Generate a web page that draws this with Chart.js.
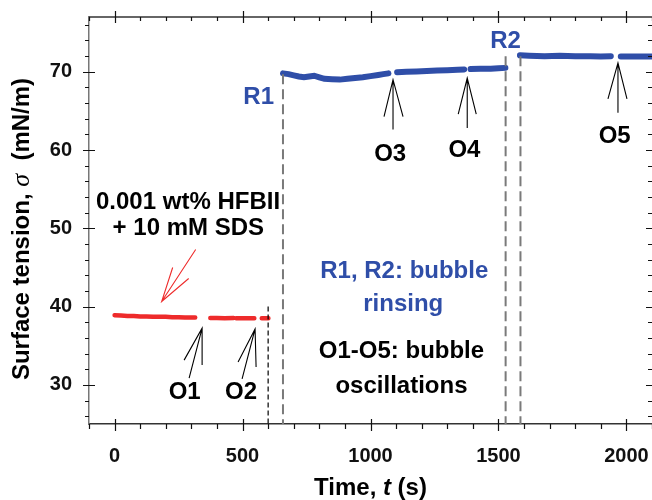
<!DOCTYPE html>
<html>
<head>
<meta charset="utf-8">
<script src="https://cdn.jsdelivr.net/npm/chart.js@4"></script>
<style>
  html, body { margin: 0; padding: 0; background: #fff; }
  #wrap { width: 652px; height: 500px; }
</style>
</head>
<body>
<div id="wrap"><canvas id="myChart" width="652" height="500"></canvas></div>
<script>
// Surface tension vs time, HFBII + SDS bubble
// red: before rinsing (null = gap where the bubble was oscillated)
const redT = [0, 25, 50, 75, 100, 125, 150, 175, 200, 225, 250, 275, 300, 315, 340,
              374, 400, 430, 465, 470, 475, 510, 546, 560, 575, 601];
const redS = [38.9, 38.85, 38.8, 38.8, 38.75, 38.75, 38.7, 38.7, 38.7, 38.65, 38.65, 38.6, 38.6, 38.6, null,
              38.55, 38.55, 38.5, 38.55, null, 38.5, 38.5, 38.5, null, 38.5, 38.5];

// blue: after rinsing R1 and R2
const blueT = [658, 680, 700, 720, 740, 760, 780, 800, 820, 850, 880, 910, 940, 970, 1000, 1030, 1050, 1070, 1088,
               1104, 1140, 1180, 1220, 1260, 1300, 1340, 1366, 1378,
               1391, 1430, 1470, 1500, 1527, 1555,
               1584, 1620, 1680, 1740, 1800, 1860, 1900, 1939, 1960,
               1978, 2020, 2060, 2100];
const blueS = [69.8, 69.7, 69.55, 69.4, 69.3, 69.4, 69.5, 69.3, 69.1, 69.05, 69.0, 69.1, 69.2, 69.3, 69.45, 69.6, 69.7, 69.8, null,
               69.95, 70.0, 70.05, 70.1, 70.15, 70.2, 70.25, 70.3, null,
               70.35, 70.4, 70.4, 70.45, 70.5, null,
               72.1, 72.05, 72.0, 72.05, 72.0, 72.0, 71.95, 72.0, null,
               71.95, 71.95, 71.95, 71.95];

// rinsing moments (grey dashed) and end of first run (black dashed)
const rinseT = [658, 1528, 1586];
const rinseTop = [69.7, 72, 72];
const stopT = 600;
const stopTop = 40;

const xTicks = [0, 500, 1000, 1500, 2000];
const yTicks = [30, 40, 50, 60, 70];

const FONT = '"Liberation Sans", Arial, sans-serif';
const BLUE = '#2f4ea8';
const RED = '#ee2b2b';

function pts(xs, ys) {
  return xs.map((x, i) => ({ x: x, y: ys[i] }));
}

const datasets = [];
rinseT.forEach((t, i) => {
  datasets.push({
    data: [{ x: t, y: rinseTop[i] }, { x: t, y: 25 }],
    borderColor: '#7a7a7a', borderWidth: 2, borderDash: [10, 5],
    pointRadius: 0, fill: false
  });
});
datasets.push({
  data: [{ x: stopT, y: stopTop }, { x: stopT, y: 25 }],
  borderColor: '#000', borderWidth: 1.2, borderDash: [5, 3],
  pointRadius: 0, fill: false
});
datasets.push({
  data: pts(redT, redS), borderColor: RED, borderWidth: 4.5,
  pointRadius: 0, spanGaps: false, borderCapStyle: 'round', tension: 0
});
datasets.push({
  data: pts(blueT, blueS), borderColor: BLUE, borderWidth: 6,
  pointRadius: 0, spanGaps: false, borderCapStyle: 'round', tension: 0
});

// arrows: apex in data units, other ends as pixel offsets
const arrows = [
  { t: 342, s: 37.25, tail: [-13, 50], b1: [-18, 32], b2: [0, 37], c: '#000' },
  { t: 549, s: 37.15, tail: [-13, 50], b1: [-17, 33], b2: [1, 38], c: '#000' },
  { t: 1088, s: 69.0, tail: [0, 50], b1: [-9, 37], b2: [10, 37], c: '#000' },
  { t: 1378, s: 69.2, tail: [0, 50], b1: [-9, 36], b2: [9, 36], c: '#000' },
  { t: 1967, s: 71.15, tail: [0, 50], b1: [-10, 36], b2: [9, 36], c: '#000' },
  { t: 184, s: 40.65, tail: [34, -52], b1: [11, -34], b2: [27, -23], c: RED }
];

const labels = [
  { text: 'O1', t: 274, s: 29.0, c: '#000' },
  { text: 'O2', t: 494, s: 29.0, c: '#000' },
  { text: 'O3', t: 1077, s: 59.45, c: '#000' },
  { text: 'O4', t: 1367, s: 59.95, c: '#000' },
  { text: 'O5', t: 1954, s: 61.75, c: '#000' },
  { text: 'R1', t: 563, s: 66.7, c: BLUE },
  { text: 'R2', t: 1528, s: 73.9, c: BLUE },
  { text: '0.001 wt% HFBII', t: 287, s: 53.3, c: '#000' },
  { text: '+ 10 mM SDS', t: 288, s: 50.0, c: '#000' },
  { text: 'R1, R2: bubble', t: 1132, s: 44.5, c: BLUE },
  { text: 'rinsing', t: 1128, s: 40.3, c: BLUE },
  { text: 'O1-O5: bubble', t: 1121, s: 34.3, c: '#000' },
  { text: 'oscillations', t: 1121, s: 29.85, c: '#000' }
];

function drawRuns(ctx, runs, x, y) {
  // runs: [text, font]
  let w = 0;
  runs.forEach(r => { ctx.font = r[1]; w += ctx.measureText(r[0]).width; });
  let cx = x - w / 2;
  ctx.textAlign = 'left';
  ctx.textBaseline = 'middle';
  runs.forEach(r => {
    ctx.font = r[1];
    ctx.fillText(r[0], cx, y);
    cx += ctx.measureText(r[0]).width;
  });
}

const extras = {
  id: 'extras',
  afterDraw(chart) {
    const ctx = chart.ctx;
    const xs = chart.scales.x, ys = chart.scales.y;
    const a = chart.chartArea;
    ctx.save();

    // frame top
    ctx.strokeStyle = '#333';
    ctx.lineWidth = 1.5;
    ctx.beginPath();
    ctx.moveTo(a.left, a.top); ctx.lineTo(a.right, a.top);
    ctx.stroke();

    // tick marks
    ctx.strokeStyle = '#111';
    ctx.lineWidth = 1.2;
    ctx.beginPath();
    for (let v = -100; v <= 2100; v += 100) {
      const px = Math.round(xs.getPixelForValue(v)) + 0.5;
      if (v % 500 === 0) {
        ctx.moveTo(px, a.bottom - 5); ctx.lineTo(px, a.bottom + 7);
        ctx.moveTo(px, a.top - 6); ctx.lineTo(px, a.top + 6);
      } else {
        ctx.moveTo(px, a.bottom); ctx.lineTo(px, a.bottom + 5);
        ctx.moveTo(px, a.top); ctx.lineTo(px, a.top + 4);
      }
    }
    for (let v = 26; v <= 76; v += 2) {
      const py = Math.round(ys.getPixelForValue(v)) + 0.5;
      if (v % 10 === 0) {
        ctx.moveTo(a.left - 6, py); ctx.lineTo(a.left + 6, py);
        ctx.moveTo(a.right - 6, py); ctx.lineTo(a.right, py);
      } else {
        ctx.moveTo(a.left - 4, py); ctx.lineTo(a.left, py);
        ctx.moveTo(a.right - 4, py); ctx.lineTo(a.right, py);
      }
    }
    ctx.stroke();

    // arrows
    ctx.lineWidth = 1.1;
    arrows.forEach(ar => {
      const px = xs.getPixelForValue(ar.t), py = ys.getPixelForValue(ar.s);
      ctx.strokeStyle = ar.c;
      ctx.beginPath();
      ctx.moveTo(px + ar.tail[0], py + ar.tail[1]); ctx.lineTo(px, py);
      ctx.moveTo(px + ar.b1[0], py + ar.b1[1]); ctx.lineTo(px, py);
      ctx.lineTo(px + ar.b2[0], py + ar.b2[1]);
      ctx.stroke();
    });

    // annotation texts
    ctx.textAlign = 'center';
    ctx.textBaseline = 'middle';
    ctx.font = 'bold 24px ' + FONT;
    labels.forEach(l => {
      ctx.fillStyle = l.c;
      ctx.fillText(l.text, xs.getPixelForValue(l.t), ys.getPixelForValue(l.s));
    });

    // axis titles
    ctx.fillStyle = '#000';
    const bold = 'bold 24px ' + FONT;
    drawRuns(ctx, [['Time, ', bold], ['t', 'italic bold 24px ' + FONT], [' (s)', bold]],
      (a.left + a.right) / 2, 488);
    ctx.translate(22, 229);
    ctx.rotate(-Math.PI / 2);
    drawRuns(ctx, [['Surface tension, ', bold], ['\u03c3', 'italic 26px "Liberation Serif", serif'], ['  (mN/m)', bold]], 0, 0);
    ctx.restore();
  }
};

const ctx = document.getElementById('myChart').getContext('2d');
const myChart = new Chart(ctx, {
  type: 'line',
  data: { datasets: datasets },
  options: {
    responsive: false,
    animation: false,
    layout: { padding: { top: 17, right: 0, left: 0, bottom: 0 } },
    plugins: { legend: { display: false }, tooltip: { enabled: false } },
    scales: {
      x: {
        type: 'linear', min: -100, max: 2100,
        afterBuildTicks: s => { s.ticks = xTicks.map(v => ({ value: v })); },
        afterFit: s => { s.height = 76; s.paddingLeft = 0; s.paddingRight = 0; },
        ticks: {
          font: { family: FONT, size: 20, weight: 'bold' }, color: '#111', padding: 20, maxRotation: 0,
          callback: v => String(v)
        },
        grid: { display: false, drawTicks: false },
        border: { display: true, color: '#333', width: 1.5 }
      },
      y: {
        min: 25, max: 77,
        afterBuildTicks: s => { s.ticks = yTicks.map(v => ({ value: v })); },
        afterFit: s => { s.width = 89; s.paddingTop = 0; s.paddingBottom = 0; },
        ticks: { font: { family: FONT, size: 20, weight: 'bold' }, color: '#111', padding: 17 },
        grid: { display: false, drawTicks: false },
        border: { display: true, color: '#777', width: 1.5 }
      }
    }
  },
  plugins: [extras]
});
</script>
</body>
</html>
